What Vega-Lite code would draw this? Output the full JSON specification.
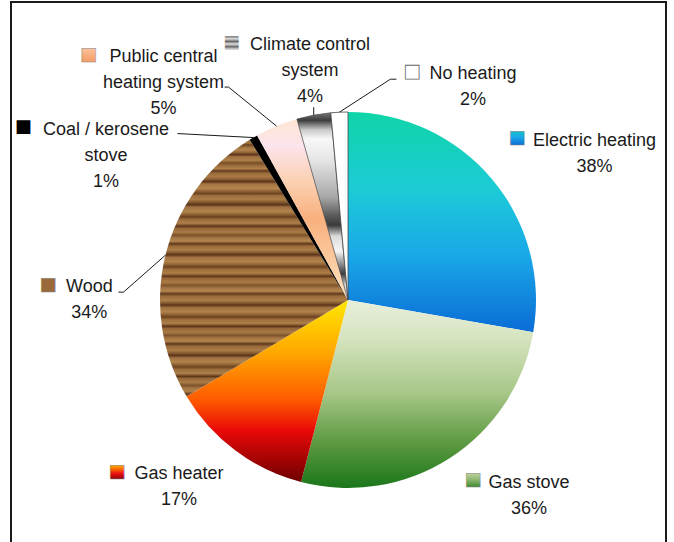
{
  "$schema": "https://vega.github.io/schema/vega-lite/v6.json",
  "width": 655,
  "height": 596,
  "autosize": {"type": "none"},
  "padding": {"left": 11, "top": 2, "right": 8, "bottom": 0},
  "background": "white",
  "config": {"view": {"stroke": null}},
  "data": {
    "values": [
      {"order": 1, "category": "Electric heating", "label": "Electric heating", "value": 38},
      {"order": 2, "category": "Gas stove", "label": "Gas stove", "value": 36},
      {"order": 3, "category": "Gas heater", "label": "Gas heater", "value": 17},
      {"order": 4, "category": "Wood", "label": "Wood", "value": 34},
      {"order": 5, "category": "Coal / kerosene stove", "label": "Coal / kerosene\nstove", "value": 1},
      {"order": 6, "category": "Public central heating system", "label": "Public central\nheating system", "value": 5},
      {"order": 7, "category": "Climate control system", "label": "Climate control\nsystem", "value": 4},
      {"order": 8, "category": "No heating", "label": "No heating", "value": 2}
    ]
  },
  "layer": [
    {
      "data": {"values": [{}]},
      "mark": {"type": "rect", "x": 0, "y": 0, "x2": "width", "y2": "height", "fill": null, "stroke": "#1a1a1a", "strokeWidth": 2},
      "encoding": {}
    },
    {
      "transform": [{"stack": "value", "groupby": [], "sort": [{"field": "order"}], "as": ["v0", "v1"]}, {"filter": "datum.order == 1"}],
      "mark": {"type": "arc", "radius": 188, "x": {"expr": "width/2 + 9.5"},
        "fill": {"gradient": "linear", "x1": 0, "y1": 0, "x2": 0, "y2": 1, "stops": [{"offset": 0, "color": "#0fd5a8"}, {"offset": 0.35, "color": "#1ccbd6"}, {"offset": 0.65, "color": "#1aa8e8"}, {"offset": 1, "color": "#0a6cd6"}]}},
      "encoding": {"theta": {"field": "v0", "type": "quantitative", "scale": {"domain": [0, 137]}}, "theta2": {"field": "v1"}}
    },
    {
      "transform": [{"stack": "value", "groupby": [], "sort": [{"field": "order"}], "as": ["v0", "v1"]}, {"filter": "datum.order == 2"}],
      "mark": {"type": "arc", "radius": 188, "x": {"expr": "width/2 + 9.5"},
        "fill": {"gradient": "linear", "x1": 0, "y1": 0, "x2": 0, "y2": 1, "stops": [{"offset": 0, "color": "#e8eedc"}, {"offset": 0.2, "color": "#d6e4c0"}, {"offset": 0.5, "color": "#a6c686"}, {"offset": 0.75, "color": "#5f9b42"}, {"offset": 1, "color": "#1b761a"}]}},
      "encoding": {"theta": {"field": "v0", "type": "quantitative", "scale": {"domain": [0, 137]}}, "theta2": {"field": "v1"}}
    },
    {
      "transform": [{"stack": "value", "groupby": [], "sort": [{"field": "order"}], "as": ["v0", "v1"]}, {"filter": "datum.order == 3"}],
      "mark": {"type": "arc", "radius": 188, "x": {"expr": "width/2 + 9.5"},
        "fill": {"gradient": "linear", "x1": 0, "y1": 0, "x2": 0, "y2": 1, "stops": [{"offset": 0, "color": "#ffe800"}, {"offset": 0.3, "color": "#ffa400"}, {"offset": 0.55, "color": "#ff5a00"}, {"offset": 0.72, "color": "#e80808"}, {"offset": 1, "color": "#6e0000"}]}},
      "encoding": {"theta": {"field": "v0", "type": "quantitative", "scale": {"domain": [0, 137]}}, "theta2": {"field": "v1"}}
    },
    {
      "transform": [{"stack": "value", "groupby": [], "sort": [{"field": "order"}], "as": ["v0", "v1"]}, {"filter": "datum.order == 4"}],
      "mark": {"type": "arc", "radius": 188, "x": {"expr": "width/2 + 9.5"},
        "fill": {"gradient": "linear", "x1": 0, "y1": 0, "x2": 0, "y2": 1, "stops": [
          {"offset": 0, "color": "#8c6034"}, {"offset": 0.012, "color": "#a87a44"}, {"offset": 0.02, "color": "#6b4220"}, {"offset": 0.028, "color": "#9c6e3c"}, {"offset": 0.04, "color": "#b3854c"}, {"offset": 0.05, "color": "#8e6134"}, {"offset": 0.058, "color": "#5c3519"}, {"offset": 0.066, "color": "#a07040"}, {"offset": 0.08, "color": "#ad7f48"}, {"offset": 0.09, "color": "#7a4f28"}, {"offset": 0.1, "color": "#98693a"}, {"offset": 0.112, "color": "#b08149"}, {"offset": 0.122, "color": "#63391b"}, {"offset": 0.13, "color": "#9b6c3b"}, {"offset": 0.145, "color": "#a97a45"}, {"offset": 0.155, "color": "#845830"}, {"offset": 0.163, "color": "#5a3318"}, {"offset": 0.172, "color": "#a27241"}, {"offset": 0.19, "color": "#b4864e"}, {"offset": 0.2, "color": "#8f6235"}, {"offset": 0.21, "color": "#6e4421"}, {"offset": 0.218, "color": "#9e6f3d"}, {"offset": 0.232, "color": "#aa7c46"}, {"offset": 0.245, "color": "#7e532b"}, {"offset": 0.253, "color": "#58321a"}, {"offset": 0.262, "color": "#a07142"}, {"offset": 0.28, "color": "#b1834b"}, {"offset": 0.292, "color": "#8b5e32"}, {"offset": 0.3, "color": "#6a4020"}, {"offset": 0.31, "color": "#9a6b3a"}, {"offset": 0.325, "color": "#ae8049"}, {"offset": 0.337, "color": "#5e361a"}, {"offset": 0.345, "color": "#956737"}, {"offset": 0.36, "color": "#a97b45"}, {"offset": 0.372, "color": "#7c512a"}, {"offset": 0.382, "color": "#a47543"}, {"offset": 0.395, "color": "#b5874f"}, {"offset": 0.405, "color": "#61391b"}, {"offset": 0.415, "color": "#9c6d3b"}, {"offset": 0.43, "color": "#ab7d47"}, {"offset": 0.44, "color": "#845930"}, {"offset": 0.448, "color": "#5b3419"}, {"offset": 0.458, "color": "#a17242"}, {"offset": 0.475, "color": "#b2844c"}, {"offset": 0.487, "color": "#8d6034"}, {"offset": 0.495, "color": "#6c4221"}, {"offset": 0.505, "color": "#9d6e3c"}, {"offset": 0.52, "color": "#ad7f48"}, {"offset": 0.532, "color": "#5f371a"}, {"offset": 0.54, "color": "#976838"}, {"offset": 0.555, "color": "#aa7b45"}, {"offset": 0.567, "color": "#7f542c"}, {"offset": 0.577, "color": "#a37443"}, {"offset": 0.59, "color": "#b4864e"}, {"offset": 0.6, "color": "#623a1c"}, {"offset": 0.61, "color": "#9b6c3a"}, {"offset": 0.625, "color": "#ac7e47"}, {"offset": 0.636, "color": "#855a31"}, {"offset": 0.644, "color": "#5a3319"}, {"offset": 0.654, "color": "#a07141"}, {"offset": 0.67, "color": "#b1834b"}, {"offset": 0.682, "color": "#8c5f33"}, {"offset": 0.69, "color": "#6b4120"}, {"offset": 0.7, "color": "#9c6d3b"}, {"offset": 0.715, "color": "#ae8049"}, {"offset": 0.727, "color": "#5d361a"}, {"offset": 0.735, "color": "#966737"}, {"offset": 0.75, "color": "#a97a45"}, {"offset": 0.762, "color": "#7d522b"}, {"offset": 0.772, "color": "#a47543"}, {"offset": 0.785, "color": "#b3854d"}, {"offset": 0.795, "color": "#60381b"}, {"offset": 0.805, "color": "#9a6b3a"}, {"offset": 0.82, "color": "#ab7d46"}, {"offset": 0.832, "color": "#83582f"}, {"offset": 0.84, "color": "#5b3419"}, {"offset": 0.85, "color": "#a17242"}, {"offset": 0.865, "color": "#b2844c"}, {"offset": 0.877, "color": "#8e6134"}, {"offset": 0.885, "color": "#6d4321"}, {"offset": 0.895, "color": "#9d6e3c"}, {"offset": 0.91, "color": "#ad7f48"}, {"offset": 0.922, "color": "#5e371a"}, {"offset": 0.93, "color": "#976838"}, {"offset": 0.945, "color": "#a97b45"}, {"offset": 0.957, "color": "#7e532b"}, {"offset": 0.967, "color": "#a37443"}, {"offset": 0.98, "color": "#b0824a"}, {"offset": 0.99, "color": "#6a4020"}, {"offset": 1, "color": "#8c6034"}]}},
      "encoding": {"theta": {"field": "v0", "type": "quantitative", "scale": {"domain": [0, 137]}}, "theta2": {"field": "v1"}}
    },
    {
      "transform": [{"stack": "value", "groupby": [], "sort": [{"field": "order"}], "as": ["v0", "v1"]}, {"filter": "datum.order == 5"}],
      "mark": {"type": "arc", "radius": 188, "x": {"expr": "width/2 + 9.5"}, "fill": "#000000"},
      "encoding": {"theta": {"field": "v0", "type": "quantitative", "scale": {"domain": [0, 137]}}, "theta2": {"field": "v1"}}
    },
    {
      "transform": [{"stack": "value", "groupby": [], "sort": [{"field": "order"}], "as": ["v0", "v1"]}, {"filter": "datum.order == 6"}],
      "mark": {"type": "arc", "radius": 188, "x": {"expr": "width/2 + 9.5"},
        "fill": {"gradient": "linear", "x1": 0, "y1": 0, "x2": 0, "y2": 1, "stops": [{"offset": 0, "color": "#fde6d4"}, {"offset": 0.15, "color": "#fde3ec"}, {"offset": 0.35, "color": "#fbd0b0"}, {"offset": 0.55, "color": "#f9b07e"}, {"offset": 0.75, "color": "#fbc79a"}, {"offset": 1, "color": "#fde2c4"}]}},
      "encoding": {"theta": {"field": "v0", "type": "quantitative", "scale": {"domain": [0, 137]}}, "theta2": {"field": "v1"}}
    },
    {
      "transform": [{"stack": "value", "groupby": [], "sort": [{"field": "order"}], "as": ["v0", "v1"]}, {"filter": "datum.order == 7"}],
      "mark": {"type": "arc", "radius": 188, "x": {"expr": "width/2 + 9.5"}, "stroke": "#444444", "strokeWidth": 0.7,
        "fill": {"gradient": "linear", "x1": 0, "y1": 0, "x2": 0, "y2": 1, "stops": [{"offset": 0, "color": "#777777"}, {"offset": 0.04, "color": "#3c3c3c"}, {"offset": 0.09, "color": "#c8c8c8"}, {"offset": 0.14, "color": "#f8f8f8"}, {"offset": 0.25, "color": "#e6e6e6"}, {"offset": 0.45, "color": "#a8a8a8"}, {"offset": 0.55, "color": "#5a5a5a"}, {"offset": 0.6, "color": "#3a3a3a"}, {"offset": 0.66, "color": "#dcdcdc"}, {"offset": 0.74, "color": "#f5f5f5"}, {"offset": 0.8, "color": "#9a9a9a"}, {"offset": 0.86, "color": "#3a3a3a"}, {"offset": 0.92, "color": "#d8d8d8"}, {"offset": 1, "color": "#ffffff"}]}},
      "encoding": {"theta": {"field": "v0", "type": "quantitative", "scale": {"domain": [0, 137]}}, "theta2": {"field": "v1"}}
    },
    {
      "transform": [{"stack": "value", "groupby": [], "sort": [{"field": "order"}], "as": ["v0", "v1"]}, {"filter": "datum.order == 8"}],
      "mark": {"type": "arc", "radius": 188, "x": {"expr": "width/2 + 9.5"}, "fill": "#ffffff", "stroke": "#444444", "strokeWidth": 0.8},
      "encoding": {"theta": {"field": "v0", "type": "quantitative", "scale": {"domain": [0, 137]}}, "theta2": {"field": "v1"}}
    },
    {
      "transform": [{"stack": "value", "groupby": [], "sort": [{"field": "order"}], "as": ["v0", "v1"]}, {"filter": "datum.order >= 4"}],
      "mark": {"type": "rule", "stroke": "#1a1a1a", "strokeWidth": 1},
      "encoding": {
        "x": {"value": {"expr": "width/2 + 9.5 + 188*sin(scale('theta', (datum.v0 + datum.v1)/2))"}},
        "y": {"value": {"expr": "height/2 - 188*cos(scale('theta', (datum.v0 + datum.v1)/2))"}},
        "x2": {"value": {"expr": "width/2 + 9.5 + 188*sin(scale('theta', (datum.v0 + datum.v1)/2)) + [0, 0, 0, -42, -76, -48, 0, 51][datum.order - 1]"}},
        "y2": {"value": {"expr": "height/2 - 188*cos(scale('theta', (datum.v0 + datum.v1)/2)) + [0, 0, 0, 37, -4, -39, -8, -33][datum.order - 1]"}}
      }
    },
    {
      "transform": [{"stack": "value", "groupby": [], "sort": [{"field": "order"}], "as": ["v0", "v1"]}, {"filter": "datum.order == 4 || datum.order == 6 || datum.order == 8"}],
      "mark": {"type": "rule", "stroke": "#1a1a1a", "strokeWidth": 1},
      "encoding": {
        "x": {"value": {"expr": "width/2 + 9.5 + 188*sin(scale('theta', (datum.v0 + datum.v1)/2)) + [0, 0, 0, -42, 0, -48, 0, 51][datum.order - 1]"}},
        "y": {"value": {"expr": "height/2 - 188*cos(scale('theta', (datum.v0 + datum.v1)/2)) + [0, 0, 0, 37, 0, -39, 0, -33][datum.order - 1]"}},
        "x2": {"value": {"expr": "width/2 + 9.5 + 188*sin(scale('theta', (datum.v0 + datum.v1)/2)) + [0, 0, 0, -47, 0, -52, 0, 57][datum.order - 1]"}},
        "y2": {"value": {"expr": "height/2 - 188*cos(scale('theta', (datum.v0 + datum.v1)/2)) + [0, 0, 0, 37, 0, -39, 0, -33][datum.order - 1]"}}
      }
    },
    {
      "transform": [{"calculate": "datum.label + '\\n' + datum.value + '%'", "as": "txt"}],
      "mark": {
        "type": "text", "radius": 250, "x": {"expr": "width/2 + 9.5"},
        "align": "center", "baseline": "alphabetic", "lineBreak": "\n", "lineHeight": 26,
        "font": "Liberation Sans", "fontSize": 18, "fill": "#1a1a1a",
        "dx": {"expr": "[55.2, 45.4, -19.3, -15.9, -116.2, -89.5, 7.6, 136.5][datum.order - 1]"},
        "dy": {"expr": "[7.4, -22.3, -21.2, 51.9, 51, -6.8, -4.2, 28.7][datum.order - 1]"}
      },
      "encoding": {
        "theta": {"field": "value", "type": "quantitative", "stack": true, "scale": {"domain": [0, 137]}},
        "order": {"field": "order", "type": "quantitative"},
        "detail": {"field": "category", "type": "nominal"},
        "text": {"field": "txt"}
      }
    },
    {
      "mark": {"type": "text", "radius": 250, "x": {"expr": "width/2 + 9.5"}, "align": "center", "baseline": "middle", "font": "DejaVu Sans", "fontSize": 18, "stroke": "#888888", "strokeWidth": 0.5, "dx": -22.3, "dy": -0.6,
        "fill": {"gradient": "linear", "x1": 0, "y1": 0, "x2": 0, "y2": 1, "stops": [{"offset": 0, "color": "#12d4b0"}, {"offset": 0.5, "color": "#1aa8e8"}, {"offset": 1, "color": "#0a5ed0"}]}},
      "encoding": {"theta": {"field": "value", "type": "quantitative", "stack": true, "scale": {"domain": [0, 137]}}, "order": {"field": "order", "type": "quantitative"}, "detail": {"field": "category", "type": "nominal"},
        "text": {"condition": {"test": "datum.order == 1", "value": "■"}, "value": ""}}
    },
    {
      "mark": {"type": "text", "radius": 250, "x": {"expr": "width/2 + 9.5"}, "align": "center", "baseline": "middle", "font": "DejaVu Sans", "fontSize": 18, "stroke": "#888888", "strokeWidth": 0.5, "dx": -10.6, "dy": -30,
        "fill": {"gradient": "linear", "x1": 0, "y1": 0, "x2": 0, "y2": 1, "stops": [{"offset": 0, "color": "#dfe9cf"}, {"offset": 0.5, "color": "#98bd78"}, {"offset": 1, "color": "#2a7e22"}]}},
      "encoding": {"theta": {"field": "value", "type": "quantitative", "stack": true, "scale": {"domain": [0, 137]}}, "order": {"field": "order", "type": "quantitative"}, "detail": {"field": "category", "type": "nominal"},
        "text": {"condition": {"test": "datum.order == 2", "value": "■"}, "value": ""}}
    },
    {
      "mark": {"type": "text", "radius": 250, "x": {"expr": "width/2 + 9.5"}, "align": "center", "baseline": "middle", "font": "DejaVu Sans", "fontSize": 18, "stroke": "#888888", "strokeWidth": 0.5, "dx": -81.3, "dy": -28.2,
        "fill": {"gradient": "linear", "x1": 0, "y1": 0, "x2": 0, "y2": 1, "stops": [{"offset": 0, "color": "#ffe000"}, {"offset": 0.35, "color": "#ff8a00"}, {"offset": 0.65, "color": "#e81010"}, {"offset": 1, "color": "#700000"}]}},
      "encoding": {"theta": {"field": "value", "type": "quantitative", "stack": true, "scale": {"domain": [0, 137]}}, "order": {"field": "order", "type": "quantitative"}, "detail": {"field": "category", "type": "nominal"},
        "text": {"condition": {"test": "datum.order == 3", "value": "■"}, "value": ""}}
    },
    {
      "mark": {"type": "text", "radius": 250, "x": {"expr": "width/2 + 9.5"}, "align": "center", "baseline": "middle", "font": "DejaVu Sans", "fontSize": 18, "stroke": "#888888", "strokeWidth": 0.5, "dx": -57.2, "dy": 44.6, "fill": "#9a6a3a"},
      "encoding": {"theta": {"field": "value", "type": "quantitative", "stack": true, "scale": {"domain": [0, 137]}}, "order": {"field": "order", "type": "quantitative"}, "detail": {"field": "category", "type": "nominal"},
        "text": {"condition": {"test": "datum.order == 4", "value": "■"}, "value": ""}}
    },
    {
      "mark": {"type": "text", "radius": 250, "x": {"expr": "width/2 + 9.5"}, "align": "center", "baseline": "middle", "font": "DejaVu Sans", "fontSize": 18, "dx": -198.9, "dy": 43.5, "fill": "#000000"},
      "encoding": {"theta": {"field": "value", "type": "quantitative", "stack": true, "scale": {"domain": [0, 137]}}, "order": {"field": "order", "type": "quantitative"}, "detail": {"field": "category", "type": "nominal"},
        "text": {"condition": {"test": "datum.order == 5", "value": "■"}, "value": ""}}
    },
    {
      "mark": {"type": "text", "radius": 250, "x": {"expr": "width/2 + 9.5"}, "align": "center", "baseline": "middle", "font": "DejaVu Sans", "fontSize": 18, "stroke": "#888888", "strokeWidth": 0.5, "dx": -164.5, "dy": -13.8,
        "fill": {"gradient": "linear", "x1": 0, "y1": 0, "x2": 0, "y2": 1, "stops": [{"offset": 0, "color": "#fcd8c0"}, {"offset": 0.5, "color": "#f9b283"}, {"offset": 1, "color": "#f49a60"}]}},
      "encoding": {"theta": {"field": "value", "type": "quantitative", "stack": true, "scale": {"domain": [0, 137]}}, "order": {"field": "order", "type": "quantitative"}, "detail": {"field": "category", "type": "nominal"},
        "text": {"condition": {"test": "datum.order == 6", "value": "■"}, "value": ""}}
    },
    {
      "mark": {"type": "text", "radius": 250, "x": {"expr": "width/2 + 9.5"}, "align": "center", "baseline": "middle", "font": "DejaVu Sans", "fontSize": 18, "dx": -70.9, "dy": -11.2,
        "fill": {"gradient": "linear", "x1": 0, "y1": 0, "x2": 0, "y2": 1, "stops": [{"offset": 0, "color": "#555555"}, {"offset": 0.12, "color": "#e0e0e0"}, {"offset": 0.25, "color": "#666666"}, {"offset": 0.37, "color": "#e0e0e0"}, {"offset": 0.5, "color": "#666666"}, {"offset": 0.62, "color": "#e0e0e0"}, {"offset": 0.75, "color": "#666666"}, {"offset": 0.87, "color": "#e0e0e0"}, {"offset": 1, "color": "#555555"}]}},
      "encoding": {"theta": {"field": "value", "type": "quantitative", "stack": true, "scale": {"domain": [0, 137]}}, "order": {"field": "order", "type": "quantitative"}, "detail": {"field": "category", "type": "nominal"},
        "text": {"condition": {"test": "datum.order == 7", "value": "■"}, "value": ""}}
    },
    {
      "mark": {"type": "text", "radius": 250, "x": {"expr": "width/2 + 9.5"}, "align": "center", "baseline": "middle", "font": "DejaVu Sans", "fontSize": 18, "stroke": "#666666", "strokeWidth": 0.8, "dx": 75.5, "dy": 22.2, "fill": "#ffffff"},
      "encoding": {"theta": {"field": "value", "type": "quantitative", "stack": true, "scale": {"domain": [0, 137]}}, "order": {"field": "order", "type": "quantitative"}, "detail": {"field": "category", "type": "nominal"},
        "text": {"condition": {"test": "datum.order == 8", "value": "■"}, "value": ""}}
    }
  ]
}
